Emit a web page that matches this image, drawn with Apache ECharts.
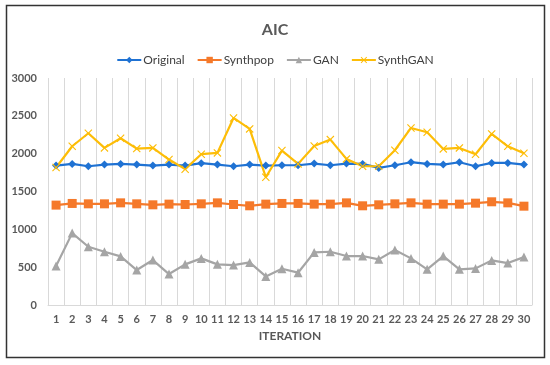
<!DOCTYPE html>
<html><head><meta charset="utf-8">
<script src="https://cdn.jsdelivr.net/npm/echarts@6/dist/echarts.min.js"></script>
<style>html,body{margin:0;padding:0;background:#fff}#c{width:550px;height:365px}</style>
</head><body><div id="c"></div>
<script>
var iterations = ['1','2','3','4','5','6','7','8','9','10','11','12','13','14','15','16','17','18','19','20','21','22','23','24','25','26','27','28','29','30'];
var original = [1843,1865,1834,1856,1865,1856,1843,1856,1843,1874,1856,1834,1856,1843,1847,1847,1869,1847,1869,1865,1812,1847,1887,1865,1856,1887,1834,1878,1878,1856];
var synthpop = [1320,1342,1337,1337,1350,1337,1324,1333,1328,1337,1350,1328,1311,1333,1342,1342,1333,1333,1350,1311,1324,1337,1350,1333,1333,1333,1346,1364,1350,1306];
var gan = [515,950,770,704,642,462,594,409,537,616,537,528,563,378,479,427,695,704,647,647,603,726,616,471,647,471,484,589,554,633];
var synthgan = [1817,2098,2270,2076,2204,2067,2076,1922,1795,1993,2010,2472,2327,1689,2041,1865,2102,2186,1931,1834,1834,2045,2340,2283,2063,2076,1993,2261,2098,2006];
var yTicks = [0,500,1000,1500,2000,2500,3000];

var xSym = 'path://M0,1L1,0L5,4L9,0L10,1L6,5L10,9L9,10L5,6L1,10L0,9L4,5Z';
var chart = echarts.init(document.getElementById('c'));
var font = 'Lato, "Open Sans", sans-serif';
function mk(name, data, color, symbol, size) {
  return {name: name, type: 'line', data: data, symbol: symbol, symbolSize: size,
    lineStyle: {color: color, width: 2.2}, itemStyle: {color: color}, z: 3};
}
chart.setOption({
  animation: false,
  textStyle: {fontFamily: font},
  title: {text: 'AIC', left: 'center', top: 17, textStyle: {fontFamily: font, fontSize: 16, fontWeight: 'bold', color: '#595959'}},
  legend: {top: 49, left: 'center', itemWidth: 24, itemHeight: 8, itemGap: 12,
    textStyle: {fontFamily: font, fontSize: 12, color: '#404040', padding: [0,0,0,-3]},
    data: ['Original','Synthpop','GAN','SynthGAN']},
  graphic: [{type: 'rect', shape: {x: 6.5, y: 5.5, width: 538, height: 352}, style: {fill: 'none', stroke: '#333', lineWidth: 1.5}, silent: true}],
  grid: {left: 48, right: 18, top: 78, bottom: 60},
  xAxis: {type: 'category', data: iterations, boundaryGap: true,
    name: 'ITERATION', nameLocation: 'middle', nameGap: 25,
    nameTextStyle: {fontFamily: font, fontSize: 12, fontWeight: 'bold', color: '#595959'},
    axisLine: {lineStyle: {color: '#d9d9d9'}}, axisTick: {show: false},
    axisLabel: {fontFamily: font, fontSize: 11, fontWeight: 'bold', color: '#595959', margin: 9, interval: 0},
    splitLine: {show: true, lineStyle: {color: '#d9d9d9', width: 1}}},
  yAxis: {type: 'value', min: 0, max: 3000, interval: 500,
    axisLine: {show: false}, axisTick: {show: false},
    axisLabel: {fontFamily: font, fontSize: 11, fontWeight: 'bold', color: '#595959', margin: 11,
      formatter: function(v){ return yTicks.indexOf(v) >= 0 ? String(v) : ''; }},
    splitLine: {show: false}},
  series: [
    mk('Original', original, '#1f72d3', 'diamond', 8),
    mk('Synthpop', synthpop, '#f5792a', 'rect', 9),
    mk('GAN', gan, '#a5a5a5', 'triangle', 9),
    mk('SynthGAN', synthgan, '#fdbd07', xSym, 8)
  ]
});
</script></body></html>
